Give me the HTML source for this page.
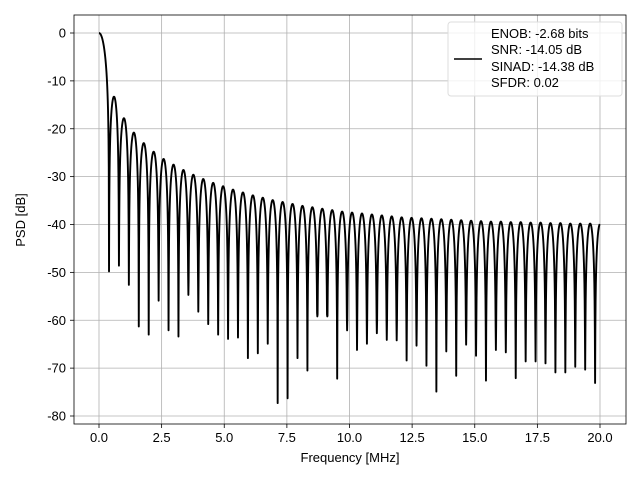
<!DOCTYPE html>
<html><head><meta charset="utf-8"><style>
body{margin:0;background:#fff}
text{font-family:"Liberation Sans","DejaVu Sans",sans-serif;fill:#000}
</style></head><body>
<svg id="chart" width="640" height="480" xmlns="http://www.w3.org/2000/svg">
<rect x="0" y="0" width="640" height="480" fill="#fff"/>
<g id="grid"></g>
<g id="ticks"></g>
<path id="series" fill="none" stroke="#000" stroke-width="1.9" stroke-linejoin="round"/>
<rect x="74" y="15" width="552" height="409" fill="none" stroke="#000" stroke-width="0.8"/>
<text x="350" y="462" font-size="13" text-anchor="middle">Frequency [MHz]</text>
<text transform="translate(25,220) rotate(-90)" font-size="13" text-anchor="middle">PSD [dB]</text>
<g>
<rect x="448" y="22" width="174" height="74" rx="3" fill="#fff" fill-opacity="0.8" stroke="#ddd"/>
<line x1="454" y1="59" x2="482" y2="59" stroke="#000" stroke-width="1.5"/>
<text x="491" y="38" font-size="13">ENOB: -2.68 bits</text>
<text x="491" y="54" font-size="13">SNR: -14.05 dB</text>
<text x="491" y="71" font-size="13">SINAD: -14.38 dB</text>
<text x="491" y="87" font-size="13">SFDR: 0.02</text>
</g>
</svg>
<script>
const xTicks=[0,2.5,5,7.5,10,12.5,15,17.5,20];
const xTickLabels=["0.0","2.5","5.0","7.5","10.0","12.5","15.0","17.5","20.0"];
const yTicks=[0,-10,-20,-30,-40,-50,-60,-70,-80];
const nullStart=0.4, nullStep=0.396, fEnd=20;
const nullDepths=[-49.8,-48.6,-52.6,-61.3,-63.0,-55.9,-62.1,-63.4,-54.7,-58.2,-60.8,-63.0,-63.9,-63.6,-67.9,-66.9,-64.9,-77.3,-76.3,-67.9,-70.5,-59.2,-59.2,-72.2,-62.1,
-66.2,-64.9,-62.7,-64.1,-64.2,-68.4,-65.3,-69.5,-74.9,-66.5,-71.6,-65.1,-67.4,-72.6,-66.2,-66.7,-72.1,-68.6,-68.6,-69.0,-70.9,-70.9,-69.7,-70.3,-73.1];
const mainPeak=0;
const lobePeaks=[-13.3,-17.8,-20.8,-23.0,-24.8,-26.3,-27.5,-28.6,-29.6,-30.5,-31.3,-32.0,-32.7,-33.3,-33.9,-34.4,-34.9,-35.3,-35.7,-36.1,-36.4,-36.7,-37.0,-37.3,-37.5,-37.7,-37.9,-38.1,-38.3,-38.5,-38.6,-38.7,-38.8,-38.9,-39.0,-39.1,-39.2,-39.3,-39.4,-39.4,-39.5,-39.5,-39.6,-39.6,-39.7,-39.7,-39.8,-39.8,-39.8,-39.9];
const X=f=>99+(f-0)*(600-99)/20;
const Y=d=>33+(0-d)*(416-33)/80;
const NS="http://www.w3.org/2000/svg";
const grid=document.getElementById('grid'), ticks=document.getElementById('ticks');
function mk(tag,attrs,parent){const e=document.createElementNS(NS,tag);for(const k in attrs)e.setAttribute(k,attrs[k]);parent.appendChild(e);return e;}
xTicks.forEach((v,i)=>{
 const g=mk('line',{x1:X(v),x2:X(v),y1:15,y2:424,stroke:'#b0b0b0','stroke-width':0.8},grid);
 
 
 mk('line',{x1:X(v),x2:X(v),y1:424,y2:428,stroke:'#000','stroke-width':0.8},ticks);
 const t=mk('text',{x:X(v),y:442,'font-size':13,'text-anchor':'middle'},ticks);
 t.textContent=xTickLabels[i];
 
 
});
yTicks.forEach(v=>{
 const g=mk('line',{x1:74,x2:626,y1:Y(v),y2:Y(v),stroke:'#b0b0b0','stroke-width':0.8},grid);
 
 
 mk('line',{x1:70,x2:74,y1:Y(v),y2:Y(v),stroke:'#000','stroke-width':0.8},ticks);
 const t=mk('text',{x:66,y:Y(v)+4.5,'font-size':13,'text-anchor':'end'},ticks);
 t.textContent=String(v);
 
 
});
let pts=[];
const N=40;
for(let i=0;i<=N;i++){
 const t=0.5+0.5*i/N; const f=nullStart*(t-0.5)*2;
 let d=mainPeak+20*Math.log10(Math.max(Math.sin(Math.PI*t),1e-6));
 d=Math.max(d,nullDepths[0]); if(i===N)d=nullDepths[0];
 pts.push([f,d]);
}
for(let k=0;k<nullDepths.length;k++){
 const f0=nullStart+k*nullStep, f1=f0+nullStep;
 const dl=nullDepths[k], dr=k+1<nullDepths.length?nullDepths[k+1]:-80;
 const pk=lobePeaks[k];
 for(let i=1;i<=N;i++){
  const t=i/N, f=f0+t*nullStep;
  if(f>fEnd){break;}
  let d=pk+20*Math.log10(Math.max(Math.sin(Math.PI*t),1e-6));
  d=Math.max(d,t<0.5?dl:dr);
  if(i===N)d=dr;
  pts.push([f,d]);
 }
 if(f1>fEnd)break;
}
document.getElementById('series').setAttribute('d',pts.map((p,i)=>(i?'L':'M')+X(p[0]).toFixed(2)+' '+Y(p[1]).toFixed(2)).join(''));
</script>
</body></html>
